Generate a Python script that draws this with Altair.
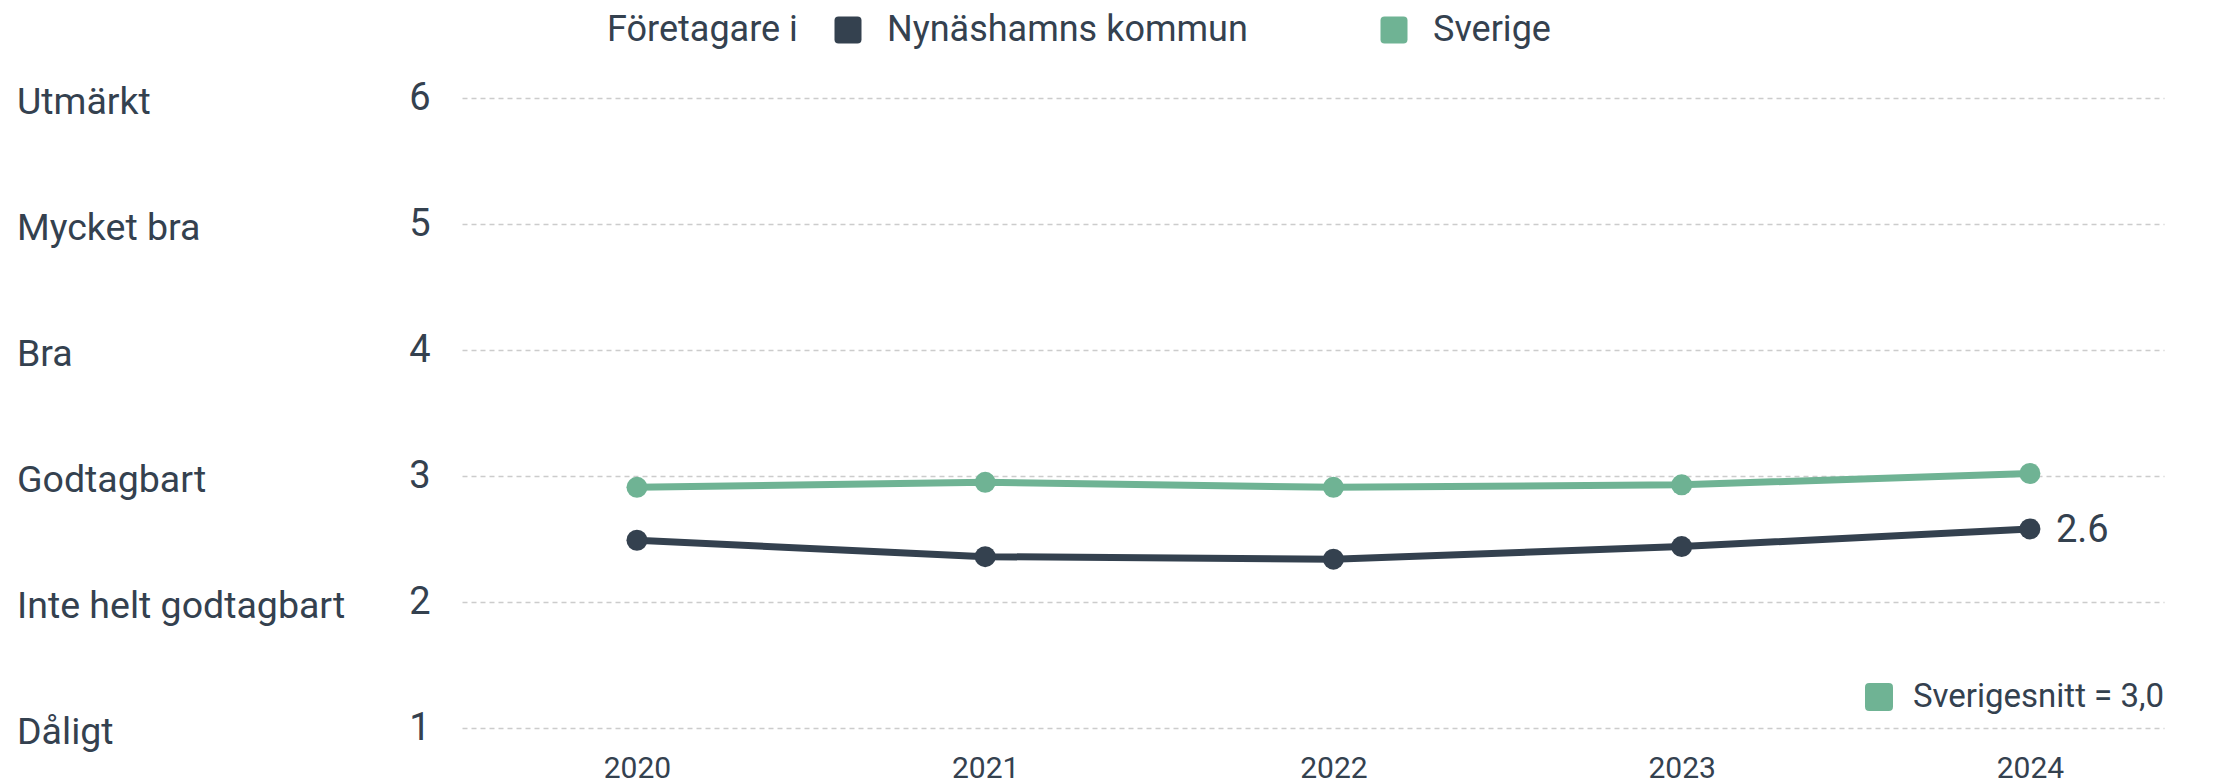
import altair as alt
import pandas as pd

years = [2020, 2021, 2022, 2023, 2024]
nynashamn = [2.49, 2.36, 2.34, 2.44, 2.58]
sverige = [2.91, 2.95, 2.91, 2.93, 3.02]
series_names = ["Nynäshamns kommun", "Sverige"]
series_colors = ["#34414f", "#6fb394"]
scale_values = [1, 2, 3, 4, 5, 6]
scale_names = ["Dåligt", "Inte helt godtagbart", "Godtagbart", "Bra", "Mycket bra", "Utmärkt"]
end_label = ["2.6"]
snitt_text = ["Sverigesnitt = 3,0"]

FONT = "Roboto"
TXT = "#34414f"

rows = []
for y, v in zip(years, nynashamn):
    rows.append({"year": y, "value": v, "series": series_names[0]})
for y, v in zip(years, sverige):
    rows.append({"year": y, "value": v, "series": series_names[1]})
df = pd.DataFrame(rows)

W, H = 1702, 630

xscale = alt.Scale(domain=[2019.4976, 2024.385], nice=False, zero=False)
yscale = alt.Scale(domain=[1, 6], nice=False, zero=False)

ROUND_SQ = "M -0.7,-1 L 0.7,-1 Q 1,-1 1,-0.7 L 1,0.7 Q 1,1 0.7,1 L -0.7,1 Q -1,1 -1,0.7 L -1,-0.7 Q -1,-1 -0.7,-1 Z"

color = alt.Color(
    "series:N",
    scale=alt.Scale(domain=series_names, range=series_colors),
    legend=alt.Legend(
        title="Företagare i",
        orient="none",
        legendX=145,
        legendY=-86,
        padding=0,
        direction="horizontal",
        titleOrient="left",
        titleFont=FONT,
        titleFontSize=36,
        titleFontWeight="normal",
        titleColor=TXT,
        titlePadding=32,
        titleLimit=1000,
        labelFont=FONT,
        labelFontSize=36,
        labelColor=TXT,
        labelOffset=21,
        labelLimit=1000,
        symbolType=ROUND_SQ,
        symbolSize=729,
        symbolStrokeWidth=0,
        symbolOpacity=1,
        columnPadding=128,
    ),
)

base = alt.Chart(df).encode(
    x=alt.X(
        "year:Q",
        scale=xscale,
        axis=alt.Axis(
            values=years,
            format="d",
            title=None,
            grid=False,
            domain=False,
            ticks=False,
            labelFont=FONT,
            labelFontSize=30,
            labelColor=TXT,
            labelPadding=25,
        ),
    ),
    y=alt.Y(
        "value:Q",
        scale=yscale,
        axis=alt.Axis(
            values=scale_values,
            format="d",
            title=None,
            domain=False,
            ticks=False,
            grid=True,
            gridColor="#cccccc",
            gridDash=[5, 4],
            gridWidth=1.5,
            labelFont=FONT,
            labelFontSize=38,
            labelColor=TXT,
            labelPadding=32,
            labelBaseline="middle",
        ),
    ),
    color=color,
)

lines = base.mark_line(strokeWidth=7)
points = base.mark_point(filled=True, size=440, opacity=1)

last = pd.DataFrame({"year": [years[-1]], "value": [nynashamn[-1]], "label": end_label})
endtxt = alt.Chart(last).mark_text(
    align="left", baseline="middle", dx=26, dy=2, font=FONT, fontSize=38, color=TXT
).encode(x=alt.X("year:Q", scale=xscale), y=alt.Y("value:Q", scale=yscale), text="label:N")

names = pd.DataFrame({"value": scale_values, "name": scale_names})
nametxt = alt.Chart(names).mark_text(
    align="left", baseline="middle", dy=5, font=FONT, fontSize=37.5, color=TXT
).encode(x=alt.value(-445), y=alt.Y("value:Q", scale=yscale), text="name:N")

snitt = pd.DataFrame({"t": snitt_text})
snitt_label = alt.Chart(snitt).mark_text(
    align="right", baseline="middle", font=FONT, fontSize=33, color=TXT
).encode(x=alt.value(W), y=alt.value(H - 31), text="t:N")
snitt_sym = alt.Chart(snitt).mark_point(
    shape=ROUND_SQ, filled=True, size=784, color=series_colors[1], opacity=1
).encode(x=alt.value(W - 285), y=alt.value(H - 31))

chart = alt.layer(lines, points, endtxt, nametxt, snitt_label, snitt_sym).properties(
    width=W,
    height=H,
    autosize=alt.AutoSizeParams(type="none"),
    padding={"left": 454, "top": 90, "right": 40, "bottom": 55},
).configure_view(stroke=None)

chart.save("out.html", embed_options={"renderer": "svg", "actions": False})
